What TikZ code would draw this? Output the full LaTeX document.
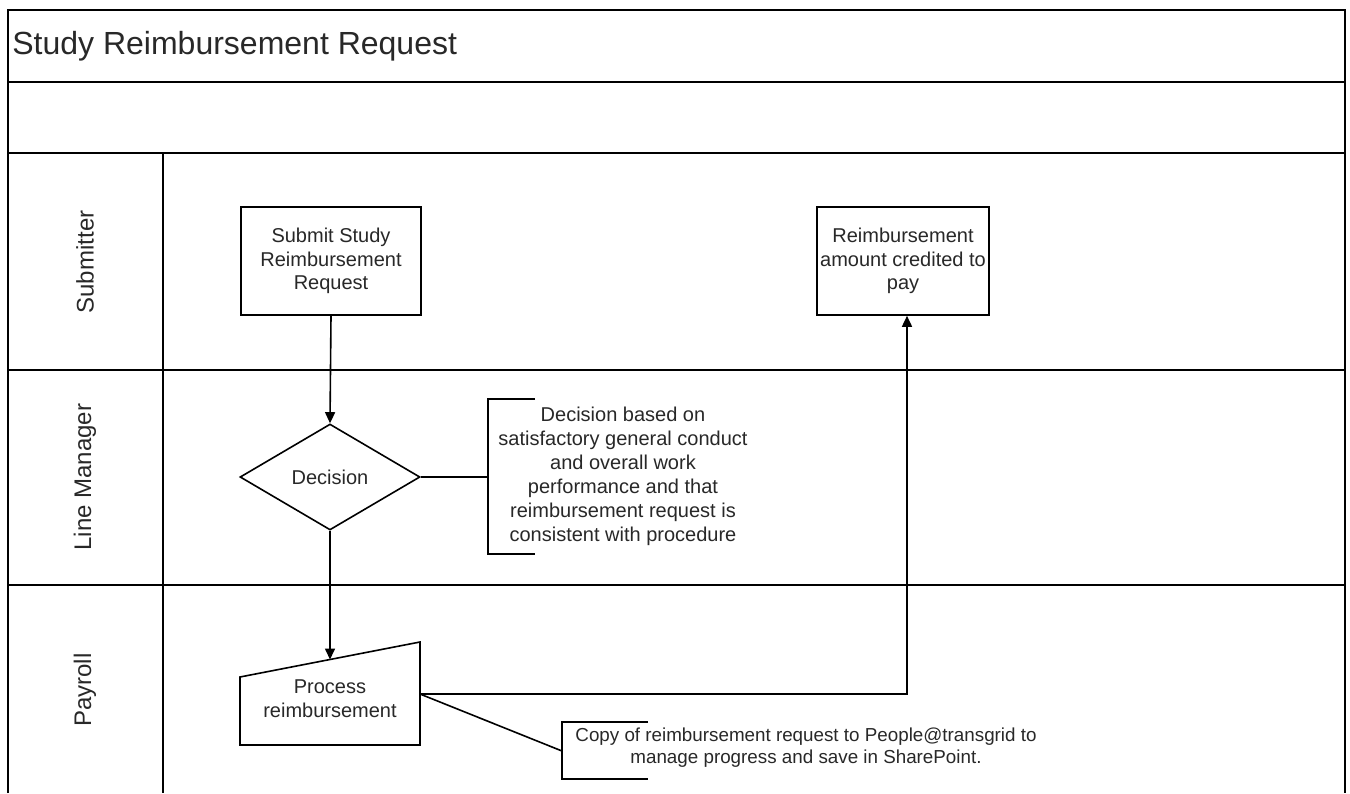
\documentclass[tikz,border=0pt]{standalone}
\usepackage{fontspec}
\setmainfont{Liberation Sans}
\usetikzlibrary{shapes.geometric,arrows.meta,calc}
\definecolor{textc}{RGB}{40,40,40}
\begin{document}
\begin{tikzpicture}[x=0.5pt,y=-0.5pt,
  frame/.style={draw=black,line width=1pt},
  shapeline/.style={draw=black,line width=0.8pt},
  txt/.style={font=\fontsize{10}{11.8}\selectfont, text=textc, align=center},
  box/.style={shapeline, txt, minimum width=90pt, minimum height=54pt, inner sep=0pt},
  lane/.style={font=\fontsize{12}{14}\selectfont, text=textc, rotate=90},
  arr/.style={line width=0.8pt, -{Triangle[length=5.5pt,width=5pt]}},
  conn/.style={line width=0.8pt}]
\useasboundingbox (0,0) rectangle (1350,793);
\fill[white] (0,0) rectangle (1350,793);
% frame
\draw[frame] (8,793) -- (8,10) -- (1345,10) -- (1345,793);
\draw[frame] (8,82) -- (1345,82);
\draw[frame] (8,153) -- (1345,153);
\draw[frame] (8,370) -- (1345,370);
\draw[frame] (8,585) -- (1345,585);
\draw[frame] (163,153) -- (163,793);
\node[anchor=west, font=\fontsize{16}{19}\selectfont, text=textc, inner sep=0pt] (title) at (12,46) {Study Reimbursement Request};
\node[lane] (l1) at (85,262) {Submitter};
\node[lane] (l2) at (85,477) {Line Manager};
\node[lane] (l3) at (85,690) {Payroll};
% nodes
\node[box] (submit) at (331,261) {Submit Study\\Reimbursement\\Request};
\node[box, minimum width=86pt] (credit) at (903,261) {Reimbursement\\amount credited to\\pay};
\node[shapeline, txt, shape=diamond, minimum width=90pt, minimum height=53pt, inner sep=0pt] (dec) at (330,477) {Decision};
% process (manual input)
\coordinate (pTL) at (240,677);
\coordinate (pTR) at (420,642);
\coordinate (pBR) at (420,745);
\coordinate (pBL) at (240,745);
\draw[shapeline] (pTL) -- (pTR) -- (pBR) -- (pBL) -- cycle;
\node[txt] (proc) at (330,699) {Process\\reimbursement};
\coordinate (pTop) at ($(pTL)!0.5!(pTR)$);
\coordinate (pR) at (420,694);
\coordinate (cIn) at ($(credit.south)+(4,0)$);
% arrows
\draw[arr] (submit.south) -- (dec.north);
\draw[arr] (dec.south) -- (pTop);
\draw[arr] (pR) -| (cIn);
% annotation 1
\coordinate (b1) at (488,477);
\draw[conn] (dec.east) -- (b1);
\draw[conn] (535,399) -- (488,399) -- (488,554) -- (535,554);
\node[txt, font=\fontsize{10}{12}\selectfont] (ann1) at (623,476) {Decision based on\\satisfactory general conduct\\and overall work\\performance and that\\reimbursement request is\\consistent with procedure};
% annotation 2
\coordinate (b2) at (562,751);
\draw[conn] (pR) -- (b2);
\draw[conn] (648,722) -- (562,722) -- (562,779) -- (648,779);
\node[txt, font=\fontsize{9.4}{11}\selectfont] (ann2) at (806,748) {Copy of reimbursement request to People@transgrid to\\manage progress and save in SharePoint.};
\end{tikzpicture}
\end{document}
